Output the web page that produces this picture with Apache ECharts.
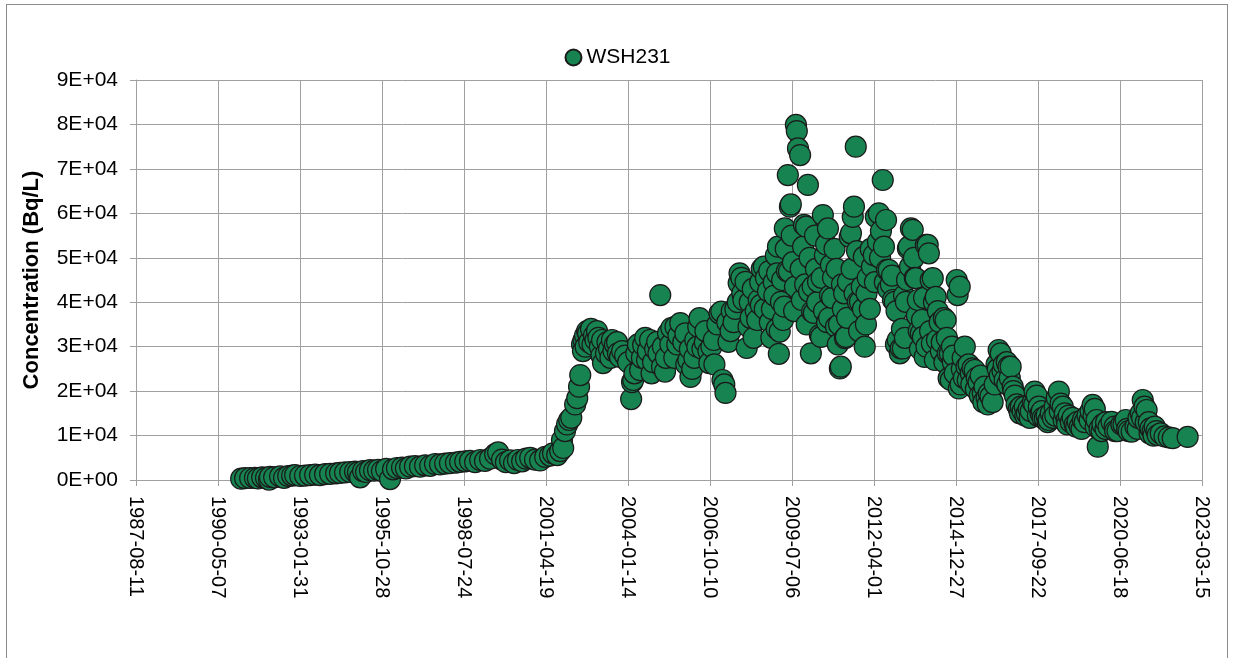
<!DOCTYPE html>
<html>
<head>
<meta charset="utf-8">
<title>WSH231</title>
<script src="https://cdn.jsdelivr.net/npm/echarts@6/dist/echarts.min.js"></script>
<style>
  body { margin: 0; background: #fff; }
  #frame { position: absolute; left: 6px; top: 4px; width: 1222px; height: 660px; border: 1px solid #8c8c8c; box-sizing: border-box; }
  #main { position: absolute; left: 0; top: 0; width: 1235px; height: 658px; }
</style>
</head>
<body>
<div id="frame"></div>
<div id="main"></div>
<script>
// sample dates as decimal years, concentration in Bq/L
var sampleYear = [
  1991.12, 1991.25, 1991.42, 1991.58, 1991.68, 1991.82, 1991.95, 1992.08, 1992.22, 1992.05,
  1992.42, 1992.55, 1992.69, 1992.82, 1992.92, 1993.09, 1993.25, 1993.42, 1993.59, 1993.75,
  1993.92, 1994.09, 1994.29, 1994.42, 1994.59, 1994.76, 1994.92, 1995.02, 1995.09, 1995.19,
  1995.29, 1995.42, 1995.56, 1995.69, 1995.82, 1995.96, 1996.09, 1996.19, 1996.32, 1996.49,
  1996.62, 1996.76, 1996.92, 1997.09, 1997.26, 1997.43, 1997.59, 1997.76, 1997.93, 1998.09,
  1998.29, 1998.43, 1998.60, 1998.76, 1998.93, 1999.10, 1999.26, 1999.43, 1999.60, 1999.70,
  1999.83, 1999.96, 2000.10, 2000.23, 2000.36, 2000.50, 2000.63, 2000.77, 2000.93, 2001.10,
  2001.27, 2001.43, 2001.53, 2001.67, 2001.77, 2001.87,
  // rise
  2001.83, 2001.93, 2002.00, 2002.07, 2002.14, 2002.27, 2002.34, 2002.40, 2002.44, 2002.50,
  2002.53, 2002.60, 2002.67, 2002.74, 2002.80, 2002.90, 2003.00, 2003.10, 2003.17, 2003.20,
  2003.30, 2003.40, 2003.50, 2003.60, 2003.67, 2003.77, 2003.84, 2003.94, 2004.04, 2004.14,
  2004.17, 2004.21, 2004.31, 2004.37, 2004.44, 2004.54, 2004.61, 2004.67, 2004.77, 2004.87,
  2004.94, 2005.01, 2005.11, 2005.17, 2005.27, 2005.37, 2005.48, 2005.58, 2005.68, 2005.78,
  2005.88, 2005.98, 2006.05, 2006.12, 2006.18, 2006.28, 2006.38, 2006.42, 2006.52, 2006.62,
  2006.72, 2006.75, 2006.82, 2006.92, 2007.02, 2007.09, 2007.15, 2007.19, 2007.25, 2007.29,
  2007.39, 2007.46, 2007.56, 2007.62, 2007.73, 2007.76, 2007.82, 2007.89, 2007.96, 2008.00,
  // peak
  2008.06, 2008.13, 2008.23, 2008.30, 2008.40, 2008.47, 2008.50, 2008.57, 2008.64, 2008.71,
  2008.77, 2008.84, 2008.90, 2008.97, 2009.01, 2009.04, 2009.07, 2009.10, 2009.14, 2009.21,
  2009.27, 2009.34, 2009.37, 2009.41, 2009.44, 2009.47, 2009.54, 2009.61, 2009.64, 2009.67,
  2009.71, 2009.78, 2009.84, 2009.88, 2009.91, 2009.98, 2010.04, 2010.08, 2010.14, 2010.18,
  2010.24, 2010.31, 2010.38, 2010.44, 2010.48, 2010.54, 2010.61, 2010.68, 2010.71, 2010.78,
  2010.81, 2010.88, 2010.98, 2011.04, 2011.11, 2011.14, 2011.21, 2011.28, 2011.31, 2011.38,
  2011.44, 2011.48, 2011.54, 2011.58, 2011.64, 2011.71, 2011.78, 2011.84, 2011.91, 2011.94,
  2011.98, 2012.04, 2012.11, 2012.18, 2012.24, 2012.31, 2012.38, 2012.41, 2012.48, 2012.54,
  2012.61, 2012.68, 2012.74, 2012.81, 2012.88, 2012.94, 2012.98, 2013.04, 2013.11, 2013.14,
  2013.21, 2013.28, 2013.31, 2013.38, 2013.41, 2013.48, 2013.54, 2013.61, 2013.64, 2013.71,
  2013.74, 2013.81, 2013.88, 2013.94, 2013.98, 2014.04, 2014.08, 2014.14, 2014.18, 2014.21,
  2014.28, 2014.31, 2014.38, 2014.44, 2014.51, 2014.58, 2014.64, 2014.71, 2014.74, 2014.78,
  2014.81, 2014.88, 2014.94,
  // decline
  2015.01, 2015.04, 2015.08, 2015.11, 2015.14, 2015.21, 2015.28, 2015.34, 2015.41, 2015.48,
  2015.54, 2015.61, 2015.68, 2015.74, 2015.81, 2015.88, 2015.94, 2016.01, 2016.08, 2016.14,
  2016.21, 2016.28, 2016.34, 2016.41, 2016.48, 2016.54, 2016.61, 2016.68, 2016.74, 2016.81,
  2016.88, 2016.95, 2017.01, 2017.08, 2017.15, 2017.21, 2017.28, 2017.35, 2017.41, 2017.48,
  2017.55, 2017.61, 2017.68, 2017.75, 2017.81, 2017.88, 2017.95, 2018.01, 2018.08, 2018.15,
  2018.22, 2018.28, 2018.35, 2018.42, 2018.48, 2018.55, 2018.62, 2018.68, 2018.75, 2018.82,
  2018.88, 2018.95, 2019.05, 2019.12, 2019.18, 2019.28, 2019.38, 2019.48, 2019.55, 2019.62,
  2019.68, 2019.72, 2019.78, 2019.88, 2019.98, 2020.08, 2020.18, 2020.28, 2020.38, 2020.51,
  2020.65, 2020.75, 2020.85, 2020.98, 2021.08, 2021.15, 2021.22, 2021.28, 2021.35, 2021.42,
  2021.48, 2021.55, 2021.62, 2021.72, 2021.82, 2021.95, 2022.09, 2022.22, 2022.72
];
var concentration = [
  300, 400, 450, 500, 350, 600, 500, 700, 600, 100,
  800, 500, 900, 1000, 1100, 900, 1000, 1100, 1200, 1100,
  1300, 1400, 1500, 1600, 1700, 1800, 1900, 1700, 600, 2000,
  1800, 2200, 2100, 2300, 2000, 2500, 200, 2400, 2700, 2800,
  2600, 3000, 3100, 3000, 3300, 3200, 3600, 3500, 3700, 3800,
  3900, 4100, 4200, 4300, 4000, 4500, 4300, 4800, 5800, 6200,
  4600, 4000, 4400, 3800, 4500, 4200, 4800, 5000, 4600, 4400,
  5200, 5500, 6000, 5600, 6500, 7200,
  9000, 11000, 12500, 13500, 14000, 17000, 18400, 21000, 23600, 30500,
  29000, 32500, 33500, 31000, 34000, 32500, 33500, 30000, 31500, 26300,
  28500, 29500, 31500, 30500, 31000, 27700, 29000, 28000, 26500, 18200,
  22000, 22500, 28500, 30500, 24700, 30400, 32000, 27000, 31500, 26500,
  29500, 31100, 41600, 25500, 24400, 33000, 34200, 27500, 30500, 35300,
  31000, 26000, 27000, 23200, 25000, 31500, 34500, 36400, 29500, 33500,
  29000, 26300, 30000, 26000, 35000, 37500, 37900, 22500, 21500, 19600,
  31100, 33500, 35500, 38500, 44300, 46500, 45500, 40500, 44600, 29700,
  34500, 36500, 32000, 38000, 40500, 39400, 47500, 48000, 45500, 42500,
  35500, 38500, 44500, 50500, 46500, 52500, 28400, 33400, 40100, 36000,
  56600, 47000, 68600, 46900, 61500, 62000, 49000, 43500, 79900, 78500,
  74600, 73100, 40500, 52500, 57400, 57000, 66400, 42400, 28500, 37900,
  37600, 47500, 44600, 32600, 32200, 59600, 50500, 35500, 56600, 41500,
  48400, 45500, 34500, 30500, 25100, 25500, 38500, 31900, 32200, 44600,
  54700, 55500, 59200, 61500, 75000, 40100, 40100, 43500, 50200, 30000,
  35000, 45500, 38500, 48000, 50600, 59200, 53600, 60000, 56000, 67500,
  44500, 47300, 47300, 44000, 40500, 40100, 30500, 31500, 28500, 29600,
  29600, 32000, 40100, 52100, 52500, 56600, 56300, 45500, 45400, 40500,
  33500, 33000, 32200, 27700, 52900, 52900, 51000, 45000, 30700, 45400,
  27000, 41200, 38000, 35500, 31000, 36400, 36000, 28500, 22900, 28500,
  22500, 26500, 24000,
  45000, 41600, 20600, 43500, 21500, 27500, 30000, 25500, 26000, 24000,
  25100, 24750, 23000, 22000, 23500, 19500, 21000, 18500, 19500, 18800,
  17500, 21500, 26000, 29250, 28500, 24500, 22500, 26500, 25500, 25500,
  21000, 19000, 17000, 16000, 16500, 15500, 16500, 15000, 16000, 15500,
  17500, 19900, 19000, 16500, 15000, 14000, 13900, 14500, 13500, 15000,
  14000, 16500, 18500, 19900, 17200, 16500, 15000, 13500, 14500, 13000,
  14000, 12500, 13100, 12000, 11500, 13000, 14500, 15500, 16900, 16000,
  13500, 7500, 11500, 12500, 11500, 12000, 13100, 12000, 11000, 12500,
  13500, 11000, 10900, 12000, 14000, 15000, 18000, 16500, 15750, 13000,
  11600, 11000, 12000, 10100, 10500, 9800, 9600, 9400, 9700
];
// further overlapping samples in the dense clusters
var clusterYear = [
  2002.55, 2002.62, 2002.70, 2002.85, 2002.95, 2003.05, 2003.15, 2003.35, 2003.45, 2003.55,
  2003.70, 2004.25, 2004.50, 2004.70, 2004.82, 2005.05, 2005.20, 2005.30, 2005.45, 2005.62,
  2005.72, 2005.95, 2006.10, 2006.25, 2006.35, 2006.60, 2006.90,
  2007.35, 2007.50, 2007.70, 2007.85, 2008.10, 2008.20, 2008.35, 2008.45, 2008.60, 2008.75,
  2008.82, 2008.92, 2009.00, 2009.18, 2009.25, 2009.30, 2009.50, 2009.58,
  2009.80, 2009.95, 2010.00, 2010.10, 2010.20, 2010.28, 2010.35, 2010.50, 2010.58, 2010.65,
  2010.75, 2010.85, 2010.93, 2011.00, 2011.08, 2011.18, 2011.25, 2011.35, 2011.50, 2011.60,
  2011.68, 2011.75, 2011.88,
  2012.00, 2012.14, 2012.28, 2012.45, 2012.58, 2012.65, 2012.72, 2012.85, 2013.00, 2013.18,
  2013.25, 2013.35, 2013.45, 2013.58, 2013.68, 2013.78, 2013.85, 2013.92, 2014.00, 2014.12,
  2014.25, 2014.35, 2014.48, 2014.60, 2014.68, 2014.85, 2014.90,
  2015.18, 2015.25, 2015.38, 2015.50, 2015.65, 2015.78, 2015.90, 2016.05, 2016.38, 2016.45,
  2016.58, 2016.70, 2016.78, 2016.90,
  2017.12, 2017.30, 2017.45, 2017.60, 2017.72, 2017.85, 2018.05, 2018.30, 2018.45, 2018.58,
  2018.70, 2019.00, 2019.22, 2019.45, 2019.58, 2019.65, 2019.85, 2020.00, 2020.30, 2020.58,
  2020.70, 2021.05, 2021.20, 2021.32, 2021.45, 2021.58, 2021.68
];
var clusterConc = [
  31500, 30000, 33000, 30500, 31500, 32000, 28000, 31000, 27500, 29000,
  28500, 24000, 27500, 29000, 24000, 28500, 30000, 27500, 30500, 34500,
  32500, 33000, 29500, 27500, 30000, 31000, 31500,
  35500, 38000, 40000, 42000, 40000, 43000, 36000, 44500, 38500, 47000,
  32000, 41500, 34000, 45000, 39000, 52000, 55000, 38000,
  47500, 44000, 35000, 50000, 43500, 55000, 40000, 45500, 38000, 53000,
  36500, 41000, 52000, 47500, 35000, 44000, 42000, 36500, 47500, 42000,
  51500, 33500, 38500,
  42000, 52000, 44500, 50000, 52500, 58500, 43000, 46000, 38000, 34000,
  41500, 45000, 48000, 50000, 37000, 29500, 36000, 41000, 30000, 33500,
  40000, 31500, 29000, 26500, 32000, 30000, 28000,
  25000, 23000, 22500, 21500, 20500, 19000, 17500, 17000, 25000, 23500,
  26000, 21500, 23000, 20000,
  15000, 14500, 14000, 17000, 14500, 15500, 13000, 14500, 15500, 13500,
  12500, 12000, 13500, 13500, 14500, 12000, 11000, 13000, 11000, 12500,
  11500, 11500, 14000, 13000, 10500, 10000, 11000
];

var axisOrigin = Date.UTC(1987, 7, 11);
var dayMs = 86400000;

function yearToDays(yr) {
  var y0 = Math.floor(yr);
  var start = Date.UTC(y0, 0, 1);
  var end = Date.UTC(y0 + 1, 0, 1);
  return (start + (yr - y0) * (end - start) - axisOrigin) / dayMs;
}

function sciLabel(v) {
  if (v === 0) return '0E+00';
  var e = Math.floor(Math.log10(v));
  var m = Math.round(v / Math.pow(10, e));
  return m + 'E+' + (e < 10 ? '0' + e : e);
}

var points = [];
for (var i = 0; i < sampleYear.length; i++) {
  points.push([yearToDays(sampleYear[i]), concentration[i]]);
}
for (var j = 0; j < clusterYear.length; j++) {
  points.push([yearToDays(clusterYear[j]), clusterConc[j]]);
}
points.sort(function (a, b) { return a[0] - b[0]; });

var chart = echarts.init(document.getElementById('main'));
var gridColor = '#a0a0a0';
var font = 'Liberation Sans, Arial, sans-serif';

chart.setOption({
  animation: false,
  textStyle: { fontFamily: font },
  legend: {
    top: 42,
    left: 'center',
    itemWidth: 16,
    itemHeight: 16,
    itemGap: 6,
    textStyle: { fontSize: 21, color: '#000', fontFamily: font },
    data: ['WSH231']
  },
  grid: { left: 136, right: 33, top: 80, bottom: 178 },
  xAxis: {
    type: 'value',
    min: 0,
    max: 13000,
    interval: 1000,
    axisLine: { lineStyle: { color: gridColor } },
    axisTick: { show: true, length: 6, lineStyle: { color: gridColor } },
    splitLine: { show: true, lineStyle: { color: gridColor, width: 1 } },
    axisLabel: {
      rotate: -90,
      margin: 16,
      fontSize: 20,
      color: '#000',
      fontFamily: font,
      formatter: function (v) {
        return new Date(axisOrigin + v * dayMs).toISOString().slice(0, 10);
      }
    }
  },
  yAxis: {
    type: 'value',
    min: 0,
    max: 90000,
    interval: 10000,
    name: 'Concentration (Bq/L)',
    nameLocation: 'middle',
    nameGap: 93,
    nameTextStyle: { fontSize: 22, fontWeight: 'bold', color: '#000', fontFamily: font },
    axisLine: { show: true, lineStyle: { color: gridColor } },
    axisTick: { show: true, length: 6, lineStyle: { color: gridColor } },
    splitLine: { show: true, lineStyle: { color: gridColor, width: 1 } },
    axisLabel: {
      margin: 18,
      fontSize: 21,
      color: '#000',
      fontFamily: font,
      formatter: sciLabel
    }
  },
  series: [
    {
      name: 'WSH231',
      type: 'scatter',
      symbol: 'circle',
      symbolSize: 21,
      itemStyle: { color: '#178350', borderColor: '#1a1a1a', borderWidth: 1.2, opacity: 1 },
      data: points
    }
  ]
});
</script>
</body>
</html>
